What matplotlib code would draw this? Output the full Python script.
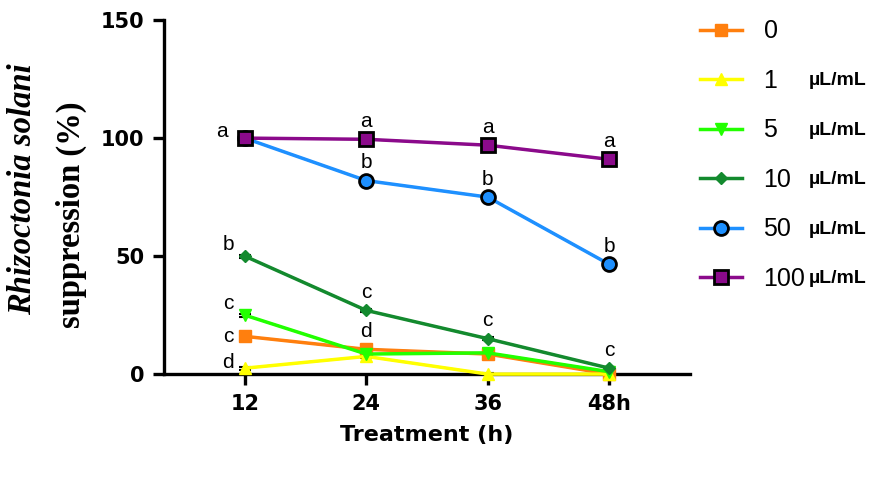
import numpy as np
import matplotlib.pyplot as plt

hours = [12, 24, 36, 48]
hour_labels = ["12", "24", "36", "48h"]

doses = ["0", "1", "5", "10", "50", "100"]
units = ["", "µL/mL", "µL/mL", "µL/mL", "µL/mL", "µL/mL"]

supp_0 = [16, 10.5, 8.5, 0]
supp_1 = [2.5, 7.5, 0, 0]
supp_5 = [25, 8.5, 9, 1]
supp_10 = [50, 27, 15, 2.5]
supp_50 = [100, 82, 75, 46.5]
supp_100 = [100, 99.5, 97, 91]
series = [supp_0, supp_1, supp_5, supp_10, supp_50, supp_100]

# significance letters (None = not shown)
letters_0 = ["c", "d", None, None]
letters_1 = ["d", None, None, None]
letters_5 = ["c", None, None, None]
letters_10 = ["b", "c", "c", "c"]
letters_50 = [None, "b", "b", "b"]
letters_100 = ["a", "a", "a", "a"]
letters = [letters_0, letters_1, letters_5, letters_10, letters_50, letters_100]

colors = ["#FF7F0E", "#FFFF00", "#22FF00", "#138A2E", "#1E90FF", "#8B0A8B"]
markers = ["s", "^", "v", "D", "o", "s"]
msizes = [9, 9, 9, 6, 10, 10]
edges = [None, None, None, None, "black", "black"]

fig = plt.figure(figsize=(8.85, 4.79), dpi=100)
ax = fig.add_axes([0.185, 0.219, 0.595, 0.739])

handles = []
for i, ys in enumerate(series):
    kw = dict(color=colors[i], marker=markers[i], markersize=msizes[i], lw=2.5,
              markerfacecolor=colors[i], clip_on=False, zorder=3 + i)
    if edges[i]:
        kw.update(markeredgecolor=edges[i], markeredgewidth=2)
    else:
        kw.update(markeredgecolor=colors[i])
    ax.errorbar(hours, ys, yerr=0.6, ecolor="black", elinewidth=1.5, capsize=4,
                capthick=1.5, zorder=2)
    h, = ax.plot(hours, ys, **kw)
    handles.append(h)

# letters: left of the point at 12 h, above the point elsewhere
left_offsets = {"a": (-16.5, 5), "b": (-12, 8), "c": (-12, 8.5), "d": (-12, 4)}
for ys, ls in zip(series, letters):
    for x, y, l in zip(hours, ys, ls):
        if l is None:
            continue
        if x == 12:
            off = left_offsets[l]
            if y < 20 and l == "c":
                off = (-12, 0)
        else:
            off = (0, 13)
        ax.annotate(l, (x, y), xytext=off, textcoords="offset points",
                    ha="center", va="center", fontsize=15,
                    family="Liberation Sans", zorder=20)

ax.set_xlim(4, 56)
ax.set_ylim(0, 150)
ax.set_xticks(hours)
ax.set_xticklabels(hour_labels)
ax.set_yticks([0, 50, 100, 150])
for s in ["top", "right"]:
    ax.spines[s].set_visible(False)
for s in ["left", "bottom"]:
    ax.spines[s].set_linewidth(2.4)
ax.tick_params(direction="out", length=8, width=2.4, labelsize=15, pad=6)
for t in ax.get_xticklabels() + ax.get_yticklabels():
    t.set_fontweight("bold")

ax.set_xlabel("Treatment (h)", fontsize=16, fontweight="bold", labelpad=8)
fig.text(0.026, 0.605, "Rhizoctonia solani", rotation=90, ha="center", va="center",
         fontsize=23.5, fontstyle="italic", fontweight="bold", family="Liberation Serif")
fig.text(0.081, 0.551, "suppression (%)", rotation=90, ha="center", va="center",
         fontsize=23.5, fontweight="bold", family="Liberation Serif")

leg = ax.legend(handles, doses, loc="upper left", bbox_to_anchor=(0.999, 1.03),
                frameon=False, handlelength=1.7, labelspacing=1.02,
                handletextpad=0.85, borderaxespad=0,
                prop={"family": "Liberation Sans", "size": 18})

fig.canvas.draw()
inv = fig.transFigure.inverted()
for t, u in zip(leg.get_texts(), units):
    if not u:
        continue
    bb = t.get_window_extent()
    x0, y0 = inv.transform(((bb.x0 + bb.x1) / 2, (bb.y0 + bb.y1) / 2))
    fig.text(0.914, y0, u, ha="left", va="center", fontsize=14,
             fontweight="bold", family="Liberation Sans")

fig.savefig("out.png", dpi=100)
